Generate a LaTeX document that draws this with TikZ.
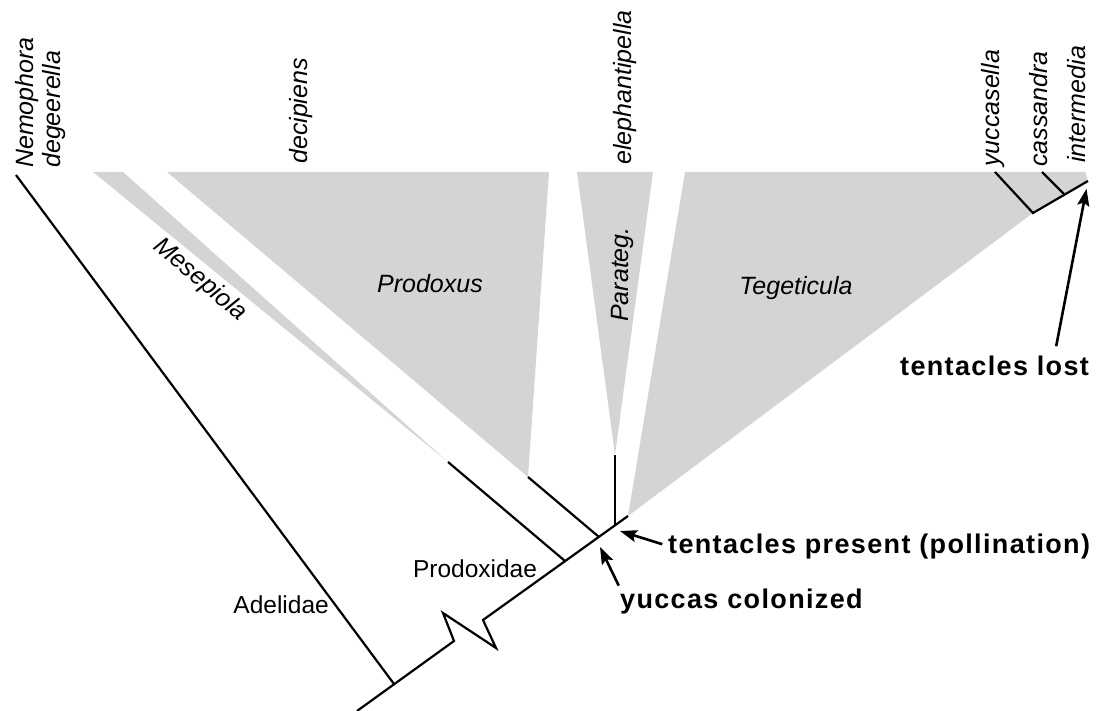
\documentclass[tikz,border=0pt]{standalone}
\usepackage{fontspec}
\setmainfont{Liberation Sans}
\newfontfamily\notefont[LetterSpace=5]{Liberation Sans}
\usepackage{tikz}
\usetikzlibrary{arrows.meta}

\begin{document}
\begin{tikzpicture}[x=1pt, y=-1pt, >={Stealth[length=17pt, width=12pt, inset=3pt]},
  branch/.style={line width=2.2pt, black},
  clade/.style={fill=black!17, draw=none},
  taxon/.style={font=\fontsize{25}{28}\selectfont\itshape, inner sep=0pt},
  tiplabel/.style={taxon, rotate=90, anchor=base west},
  family/.style={font=\fontsize{24.5}{28}\selectfont, inner sep=0pt},
  event/.style={font=\notefont\bfseries\fontsize{27}{30}\selectfont, inner sep=0pt, anchor=base west},
  pointer/.style={->, line width=2.6pt}]
  \useasboundingbox (0,0) rectangle (1096,711);
  % tree nodes
  \coordinate (root) at (357,711);
  \coordinate (adel) at (394,684);
  \coordinate (nemo) at (16,175);
  \coordinate (z1) at (454,641);
  \coordinate (z2) at (443,613);
  \coordinate (z3) at (496,648);
  \coordinate (z4) at (483,620);
  \coordinate (prodox) at (565,561);
  \coordinate (mese) at (448,462);
  \coordinate (prx) at (599,537);
  \coordinate (prxtip) at (528,477);
  \coordinate (par) at (615,525);
  \coordinate (partip) at (615,455);
  \coordinate (teg) at (628,516);
  \coordinate (yuc) at (1033,213);
  \coordinate (yuctip) at (995,172);
  \coordinate (cas) at (1064,194);
  \coordinate (castip) at (1042,172);
  \coordinate (inttip) at (1088,181);
  % ---------------- clades (grey) ----------------
  \fill[clade] (mese) -- (93,172) -- (123,172) -- cycle;
  \fill[clade] (prxtip) -- (167,172) -- (549,172) -- cycle;
  \fill[clade] (partip) -- (577,172) -- (653,172) -- cycle;
  \fill[clade] (teg) -- (685,172) -- (1085,172) -- (inttip) -- (yuc) -- cycle;
  % ---------------- branches ----------------
  \draw[branch] (root) -- (z1) -- (z2) -- (z3) -- (z4) -- (teg);
  \draw[branch] (adel) -- (nemo);
  \draw[branch] (prodox) -- (mese);
  \draw[branch] (prx) -- (prxtip);
  \draw[branch] (par) -- (partip);
  \draw[branch] (yuctip) -- (yuc) -- (inttip);
  \draw[branch] (castip) -- (cas);
  % ---------------- taxa ----------------
  \node[tiplabel] (nemophora) at (33,168) {Nemophora};
  \node[tiplabel] (degeerella) at (60,168) {degeerella};
  \node[tiplabel] (decipiens) at (307,164) {decipiens};
  \node[tiplabel] (elephant) at (631,165) {elephantipella};
  \node[tiplabel] (yuccasella) at (999,167) {yuccasella};
  \node[tiplabel] (cassandra) at (1047,167) {cassandra};
  \node[tiplabel] (intermedia) at (1085,163) {intermedia};
  \node[taxon, rotate=-40] (mesepiola) at (200,280) {Mesepiola};
  \node[taxon, anchor=base] (prodoxus) at (430,293) {Prodoxus};
  \node[taxon, anchor=base] (tegeticula) at (796,295) {Tegeticula};
  \node[tiplabel] (parateg) at (628,322) {Parateg.};
  \node[family, anchor=base] (prodoxidae) at (475,577) {Prodoxidae};
  \node[family, anchor=base east] (adelidae) at (329,613) {Adelidae};
  % ---------------- character changes ----------------
  \coordinate (pollin) at (620,531);
  \coordinate (colon) at (600,547);
  \node[event] (lost) at (900,376) {tentacles lost};
  \node[event] (present) at (668,553) {tentacles present (pollination)};
  \node[event] (yuccas) at (620,608) {yuccas colonized};
  \draw[pointer, shorten >=8pt] ([xshift=-33pt, yshift=10pt]lost.north east) -- (inttip);
  \draw[pointer, shorten <=6pt] (present.west) -- (pollin);
  \draw[pointer, shorten <=3pt] (yuccas.north west) -- (colon);
\end{tikzpicture}
\end{document}
